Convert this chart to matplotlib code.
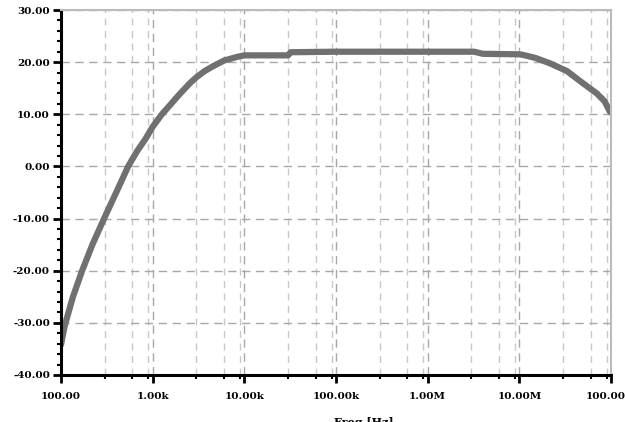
import matplotlib
matplotlib.use('Agg')
import matplotlib.pyplot as plt
from matplotlib.ticker import FixedLocator, FixedFormatter, MultipleLocator

# gain curve
freq = [100, 110, 135, 170, 220, 295, 400, 540, 680, 830, 1000, 1260, 1500,
        1740, 2000, 2560, 3000, 3700, 4540, 6000, 8300, 10000,
        20000, 30000, 32000, 100000, 1e6, 3.2e6, 4e6, 1e7, 1.09e7, 1.5e7,
        2.14e7, 3.3e7, 4.9e7, 7.0e7, 8.5e7, 9.8e7]
gain = [-34.2, -30.5, -25, -20, -15, -10, -5, 0, 3, 5.2, 7.6, 10, 11.5,
        12.8, 14, 16, 17.1, 18.3, 19.2, 20.3, 21.0, 21.3,
        21.3, 21.3, 21.9, 22.0, 22.0, 22.0, 21.6, 21.5, 21.4, 20.8,
        19.8, 18.3, 16.0, 14.0, 12.5, 10.4]

xticks = [1e2, 1e3, 1e4, 1e5, 1e6, 1e7, 1e8]
xlabels = ['100.00', '1.00k', '10.00k', '100.00k', '1.00M', '10.00M', '100.00M']
yticks = [-40, -30, -20, -10, 0, 10, 20, 30]
ylabels = ['%.2f' % v for v in yticks]

fig = plt.figure(figsize=(6.25, 4.22), dpi=100)
ax = fig.add_axes([61/625, 1 - 375/422, 550/625, 365/422])

ax.plot(freq, gain, color='#707070', lw=4.5, solid_capstyle='round',
        solid_joinstyle='round')

ax.set_xscale('log')
ax.set_xlim(1e2, 1e8)
ax.set_ylim(-40, 30)

ax.xaxis.set_major_locator(FixedLocator(xticks))
ax.xaxis.set_major_formatter(FixedFormatter(xlabels))
minors = []
for d in xticks[:-1]:
    minors += [3*d, 6*d, 9*d]
ax.xaxis.set_minor_locator(FixedLocator(minors))
ax.xaxis.set_minor_formatter(FixedFormatter([''] * len(minors)))

ax.yaxis.set_major_locator(FixedLocator(yticks))
ax.yaxis.set_major_formatter(FixedFormatter(ylabels))
ax.yaxis.set_minor_locator(MultipleLocator(2))

ax.grid(which='major', color='#a8a8a8', ls=(0, (6, 4)), lw=1.0)
ax.grid(which='minor', axis='x', color='#c8c8c8', ls=(0, (5, 4)), lw=1.0)

for s in ['left', 'bottom']:
    ax.spines[s].set_linewidth(2.2)
    ax.spines[s].set_color('black')
for s in ['top', 'right']:
    ax.spines[s].set_linewidth(1.5)
    ax.spines[s].set_color('#bbbbbb')

ax.tick_params(which='major', length=6, width=2, direction='out', labelsize=7.5, pad=2)
ax.tick_params(axis='x', which='major', pad=6)
ax.tick_params(which='minor', length=3, width=1.5, direction='out')
for lab in ax.get_xticklabels() + ax.get_yticklabels():
    lab.set_fontweight('bold')
    lab.set_fontfamily('DejaVu Serif')

ax.set_xlabel('Freq [Hz]', fontsize=8, fontweight='bold', family='DejaVu Serif')
ax.xaxis.set_label_coords(0.55, -0.115)

fig.savefig('out.png', dpi=100)
